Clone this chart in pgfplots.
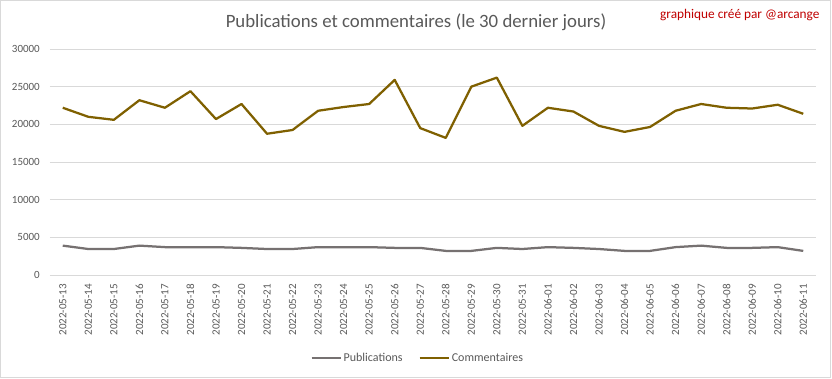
\documentclass[border=0pt]{standalone}
\usepackage{pgfplots}
\pgfplotsset{compat=1.18}
\usepackage{pgfplotstable}
\usepackage{fontspec}
\setmainfont{Carlito}
\definecolor{txt}{HTML}{595959}
\definecolor{gridc}{HTML}{D9D9D9}
\definecolor{pubc}{HTML}{767171}
\definecolor{comc}{HTML}{7F6000}
\definecolor{redc}{HTML}{C00000}

\pgfplotstableread{
x pub com
0 3900 22200
1 3450 21000
2 3450 20600
3 3900 23200
4 3700 22200
5 3700 24400
6 3700 20700
7 3600 22700
8 3450 18750
9 3450 19250
10 3700 21800
11 3700 22300
12 3700 22700
13 3600 25900
14 3600 19500
15 3200 18200
16 3200 25000
17 3600 26200
18 3450 19800
19 3700 22200
20 3600 21700
21 3450 19800
22 3200 19000
23 3200 19650
24 3700 21800
25 3900 22700
26 3600 22200
27 3600 22100
28 3700 22600
29 3200 21400
}\data

\begin{document}
\begin{tikzpicture}[x=1pt,y=1pt]
\useasboundingbox (0,0) rectangle (832,378);
\fill[white] (0,0) rectangle (832,378);
\draw[gridc] (0.5,0.5) rectangle (830.5,377.5);
\node[text=txt, font=\fontsize{18.8}{21}\selectfont] at (416,356) {Publications et commentaires (le 30 dernier jours)};
\node[anchor=east, text=redc, font=\fontsize{13.3}{15}\selectfont] at (823,363) {graphique créé par @arcange};
\begin{axis}[
  at={(50pt,103pt)}, anchor=south west,
  scale only axis, width=766pt, height=226pt,
  xmin=-0.5, xmax=29.5, ymin=0, ymax=30000,
  ytick={0,5000,...,30000},
  xtick={0,...,29},
  xticklabels={2022-05-13,2022-05-14,2022-05-15,2022-05-16,2022-05-17,2022-05-18,2022-05-19,2022-05-20,2022-05-21,2022-05-22,2022-05-23,2022-05-24,2022-05-25,2022-05-26,2022-05-27,2022-05-28,2022-05-29,2022-05-30,2022-05-31,2022-06-01,2022-06-02,2022-06-03,2022-06-04,2022-06-05,2022-06-06,2022-06-07,2022-06-08,2022-06-09,2022-06-10,2022-06-11},
  scaled y ticks=false,
  /pgf/number format/assume math mode=true,
  /pgf/number format/set thousands separator={},
  ymajorgrids, grid style={gridc, line width=0.8pt},
  axis line style={draw=none},
  major tick length=0pt,
  tick label style={text=txt, font=\fontsize{11}{13}\selectfont},
  xticklabel style={rotate=90, anchor=east, inner xsep=9pt},
  yticklabel style={anchor=east, inner xsep=10pt},
  legend columns=2,
  legend style={at={(axis description cs:0.48,-0.367)}, anchor=center, draw=none, fill=none,
    font=\fontsize{12}{14}\selectfont, text=txt,
    /tikz/every even column/.append style={column sep=14pt}},
  legend image code/.code={\draw[#1, line width=2.25pt] (0pt,0pt) -- (29pt,0pt);},
  clip=false,
]
\addplot[pubc, line width=2.25pt, line join=round] table[x=x, y=pub] {\data};
\addlegendentry{Publications}
\addplot[comc, line width=2.25pt, line join=round] table[x=x, y=com] {\data};
\addlegendentry{Commentaires}
\end{axis}
\end{tikzpicture}
\end{document}
